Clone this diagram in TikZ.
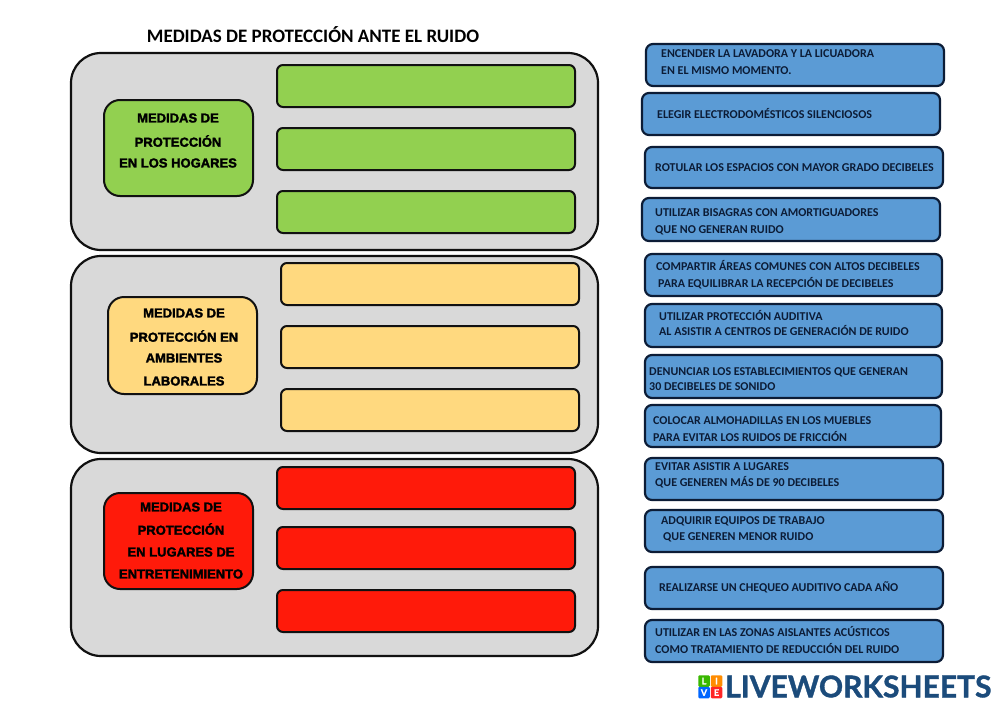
\documentclass[tikz,border=0pt]{standalone}
\usepackage{fontspec}
\setmainfont{Carlito}
\newfontfamily\labelfont[BoldFeatures={FakeBold=2.2}]{Liberation Sans}
\newfontfamily\logofont[BoldFeatures={FakeBold=1.2}]{Lato}
\definecolor{panelgray}{HTML}{D9D9D9}
\definecolor{leafgreen}{HTML}{92D050}
\definecolor{softyellow}{HTML}{FFD97F}
\definecolor{vivid}{HTML}{FF1A0A}
\definecolor{cardblue}{HTML}{5B9BD5}
\definecolor{ink}{HTML}{111111}
\definecolor{cardink}{HTML}{0C1C36}
\definecolor{logoblue}{HTML}{1B4B7B}
\tikzset{
  x=1pt,y=-1pt,
  panel/.style={draw=ink,line width=2.2pt,fill=panelgray,rounded corners=30pt},
  slot/.style={draw=ink,line width=2pt,rounded corners=6pt},
  head/.style={draw=ink,line width=2pt,rounded corners=16pt},
  card/.style={draw=cardink,line width=2.2pt,fill=cardblue,rounded corners=7pt},
  cardtext/.style={anchor=west,inner sep=0pt,font=\fontsize{12}{13}\selectfont\bfseries,text=cardink},
  headtext/.style={anchor=center,inner sep=0pt,text=black,font=\fontsize{13}{14}\selectfont\labelfont\bfseries},
  logosq/.style={rounded corners=1.2pt,minimum size=11.5pt,inner sep=0pt,text=white,font=\fontsize{9}{9}\selectfont\logofont\bfseries}
}
% name, x1, y1, x2, y2, style
\newcommand{\bx}[6]{\node[#6,anchor=north west,inner sep=0pt,outer sep=0pt,minimum width=#4pt-#2pt,minimum height=#5pt-#3pt] (#1) at (#2,#3) {};}
\begin{document}
\begin{tikzpicture}
\useasboundingbox (0,0) rectangle (1000,707);
\fill[white] (0,0) rectangle (1000,707);
\node[inner sep=0pt,anchor=center,text=black,font=\fontsize{19}{21}\selectfont\bfseries] (title) at (313,34.5) {MEDIDAS DE PROTECCIÓN ANTE EL RUIDO};
% panels
\bx{p1}{71}{53}{598}{250}{panel}
\bx{p2}{71}{256}{598}{453}{panel}
\bx{p3}{71}{459}{598}{656}{panel}
% slots
\bx{g1}{277}{65}{575}{107}{slot,fill=leafgreen}
\bx{g2}{277}{128}{575}{170}{slot,fill=leafgreen}
\bx{g3}{277}{191}{575}{233}{slot,fill=leafgreen}
\bx{y1}{281}{263}{579}{305}{slot,fill=softyellow}
\bx{y2}{281}{326}{579}{368}{slot,fill=softyellow}
\bx{y3}{281}{389}{579}{431}{slot,fill=softyellow}
\bx{r1}{277}{467}{575}{509}{slot,fill=vivid}
\bx{r2}{277}{527}{575}{569}{slot,fill=vivid}
\bx{r3}{277}{590}{575}{632}{slot,fill=vivid}
% heads
\bx{hg}{104}{100}{253}{196}{head,fill=leafgreen}
\bx{hy}{108}{297}{257}{394}{head,fill=softyellow}
\bx{hr}{104}{493}{253}{589}{head,fill=vivid}
\node[headtext] (hg1) at (178,118) {MEDIDAS DE};
\node[headtext] (hg2) at (178,141) {PROTECCIÓN};
\node[headtext] (hg3) at (178,163) {EN LOS HOGARES};
\node[headtext] (hy1) at (184,313) {MEDIDAS DE};
\node[headtext] (hy2) at (184,336) {PROTECCIÓN EN};
\node[headtext] (hy3) at (184,358) {AMBIENTES};
\node[headtext] (hy4) at (184,381) {LABORALES};
\node[headtext] (hr1) at (181,507) {MEDIDAS DE};
\node[headtext] (hr2) at (181,529) {PROTECCIÓN};
\node[headtext] (hr3) at (181,552) {EN LUGARES DE};
\node[headtext] (hr4) at (181,574) {ENTRETENIMIENTO};
% cards
\bx{c1}{646}{44}{944}{86}{card}
\bx{c2}{642}{93}{940}{135}{card}
\bx{c3}{645}{147}{943}{188}{card}
\bx{c4}{642}{198}{940}{241}{card}
\bx{c5}{645}{254}{942}{296}{card}
\bx{c6}{645}{304}{942}{347}{card}
\bx{c7}{645}{355}{942}{398}{card}
\bx{c8}{645}{405}{941}{447}{card}
\bx{c9}{645}{458}{943}{500}{card}
\bx{c10}{645}{510}{943}{552}{card}
\bx{c11}{645}{567}{943}{609}{card}
\bx{c12}{645}{620}{943}{662}{card}
\node[cardtext] (t1a) at (661,54) {ENCENDER LA LAVADORA Y LA LICUADORA};
\node[cardtext] (t1b) at (661,71) {EN EL MISMO MOMENTO.};
\node[cardtext] (t2a) at (657,113) {ELEGIR ELECTRODOMÉSTICOS SILENCIOSOS};
\node[cardtext] (t3a) at (655,168) {ROTULAR LOS ESPACIOS CON MAYOR GRADO DECIBELES};
\node[cardtext] (t4a) at (655,213) {UTILIZAR BISAGRAS CON AMORTIGUADORES};
\node[cardtext] (t4b) at (655,230) {QUE NO GENERAN RUIDO};
\node[cardtext] (t5a) at (656,265) {COMPARTIR ÁREAS COMUNES CON ALTOS DECIBELES};
\node[cardtext] (t5b) at (658,283) {PARA EQUILIBRAR LA RECEPCIÓN DE DECIBELES};
\node[cardtext] (t6a) at (659,315) {UTILIZAR PROTECCIÓN AUDITIVA};
\node[cardtext] (t6b) at (659,330) {AL ASISTIR A CENTROS DE GENERACIÓN DE RUIDO};
\node[cardtext] (t7a) at (649,372) {DENUNCIAR LOS ESTABLECIMIENTOS QUE GENERAN};
\node[cardtext] (t7b) at (649,387) {30 DECIBELES DE SONIDO};
\node[cardtext] (t8a) at (653,421) {COLOCAR ALMOHADILLAS EN LOS MUEBLES};
\node[cardtext] (t8b) at (653,436) {PARA EVITAR LOS RUIDOS DE FRICCIÓN};
\node[cardtext] (t9a) at (655,467) {EVITAR ASISTIR A LUGARES};
\node[cardtext] (t9b) at (655,482) {QUE GENEREN MÁS DE 90 DECIBELES};
\node[cardtext] (t10a) at (661,521) {ADQUIRIR EQUIPOS DE TRABAJO};
\node[cardtext] (t10b) at (663,537) {QUE GENEREN MENOR RUIDO};
\node[cardtext] (t11a) at (659,587) {REALIZARSE UN CHEQUEO AUDITIVO CADA AÑO};
\node[cardtext] (t12a) at (655,631) {UTILIZAR EN LAS ZONAS AISLANTES ACÚSTICOS};
\node[cardtext] (t12b) at (655,648) {COMO TRATAMIENTO DE REDUCCIÓN DEL RUIDO};
% logo
\node[logosq,fill=green!60!black!70!lime] (l1) at (704,681) {L};
\node[logosq,fill=orange!90!yellow] (l2) at (716.5,681) {I};
\node[logosq,fill=blue!60!cyan] (l3) at (704,692.5) {V};
\node[logosq,fill=red!80!pink] (l4) at (716.5,692.5) {E};
\node[anchor=west,inner sep=0pt,text=logoblue,font=\fontsize{30}{30}\selectfont\logofont\bfseries] (logo) at (725,686.5) {LIVEWORKSHEETS};
\end{tikzpicture}
\end{document}
